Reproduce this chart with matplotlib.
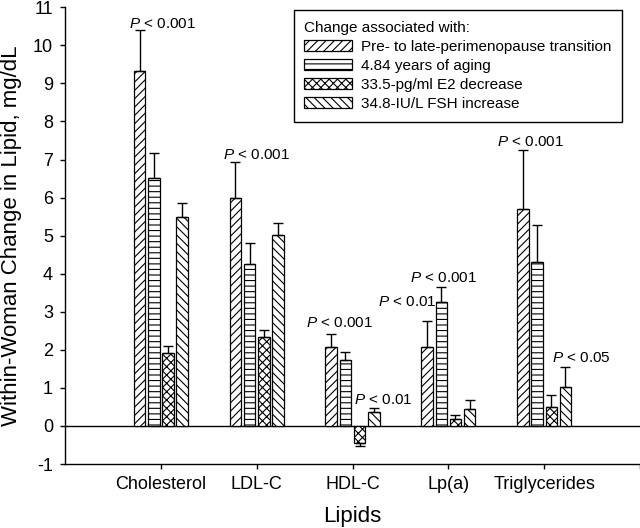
import numpy as np
from matplotlib import pyplot as plt

plt.rcParams['font.family'] = ['Liberation Sans', 'DejaVu Sans']
plt.rcParams['mathtext.fontset'] = 'custom'
plt.rcParams['mathtext.rm'] = 'Liberation Sans'
plt.rcParams['mathtext.it'] = 'Liberation Sans:italic'
plt.rcParams['axes.unicode_minus'] = False
plt.rcParams['hatch.linewidth'] = 0.8

# Data (mg/dL)
lipids = ['Cholesterol', 'LDL-C', 'HDL-C', 'Lp(a)', 'Triglycerides']
series_labels = ['Pre- to late-perimenopause transition',
                 '4.84 years of aging',
                 '33.5-pg/ml E2 decrease',
                 '34.8-IU/L FSH increase']
transition = [9.32, 5.98, 2.07, 2.07, 5.69]
transition_err = [1.09, 0.95, 0.34, 0.70, 1.57]
aging = [6.51, 4.25, 1.73, 3.25, 4.30]
aging_err = [0.66, 0.56, 0.21, 0.39, 0.98]
e2 = [1.91, 2.33, -0.44, 0.18, 0.51]
e2_err = [0.19, 0.18, 0.08, 0.12, 0.29]
fsh = [5.49, 5.01, 0.36, 0.45, 1.03]
fsh_err = [0.36, 0.31, 0.12, 0.22, 0.53]

# (lipid index, series index, text)
p_labels = [(0, 0, '$P$ < 0.001'), (1, 0, '$P$ < 0.001'),
            (2, 0, '$P$ < 0.001'), (2, 3, '$P$ < 0.01'),
            (3, 0, '$P$ < 0.01'), (3, 1, '$P$ < 0.001'),
            (4, 0, '$P$ < 0.001'), (4, 3, '$P$ < 0.05')]
# text offsets in pixels from the error-bar end
p_offsets = [(-10.5, 2), (-12, 3), (-25.5, 7), (-20, 3.5),
             (-49, 14.5), (-31.7, 5), (-25.7, 4), (-13.6, 4.4)]

values = [transition, aging, e2, fsh]
errors = [transition_err, aging_err, e2_err, fsh_err]
hatches = ['////', '---', 'xxxx', '\\\\\\\\']

fig = plt.figure(figsize=(6.4, 5.28), dpi=100)
ax = fig.add_axes([0.1016, 0.1212, 0.8984, 0.865])

x = np.arange(1, len(lipids) + 1)
width = 0.12
step = 0.148
bars = []
for i, (vals, errs) in enumerate(zip(values, errors)):
    pos = x + (i - 1.5) * step
    b = ax.bar(pos, vals, width, color='white', edgecolor='black',
               linewidth=0.9, hatch=hatches[i], label=series_labels[i], zorder=2)
    bars.append(b)
    vals = np.array(vals)
    errs = np.array(errs)
    lower = np.where(vals < 0, errs, 0)
    upper = np.where(vals < 0, 0, errs)
    ax.errorbar(pos, vals, yerr=[lower, upper], fmt='none', ecolor='black',
                elinewidth=1, capsize=3.3, capthick=1, zorder=3)

for (g, s, txt), (dx, dy) in zip(p_labels, p_offsets):
    v = values[s][g]
    top = v + errors[s][g]
    ax.annotate(txt, xy=(x[g] + (s - 1.5) * step, top),
                xytext=(dx * 0.72, dy * 0.72), textcoords='offset points',
                ha='left', va='baseline', fontsize=11)

ax.axhline(0, color='black', linewidth=1, zorder=1)

ax.set_xlim(0, 6)
ax.set_ylim(-1, 11)
ax.set_xticks(list(x) + [6])
ax.set_xticklabels(lipids + [''])
ax.set_yticks(range(-1, 12))
ax.tick_params(direction='out', length=3.6, width=1, labelsize=13, pad=5)
for side in ['top', 'right']:
    ax.spines[side].set_visible(False)
for side in ['left', 'bottom']:
    ax.spines[side].set_linewidth(1)

ax.set_xlabel('Lipids', fontsize=16, labelpad=9.5)
ax.set_ylabel('Within-Woman Change in Lipid, mg/dL', fontsize=16)
ax.yaxis.set_label_coords(-0.075, 0.5)

leg = ax.legend(handles=bars, title='Change associated with:', fontsize=11,
                title_fontsize=11, alignment='left', loc='upper right',
                bbox_to_anchor=(622 / 640, 1 - 10 / 528),
                bbox_transform=fig.transFigure, fancybox=False,
                edgecolor='black', framealpha=1, borderpad=0.7,
                labelspacing=0.33, handlelength=3.1, handleheight=0.66,
                handletextpad=0.6, borderaxespad=0)
leg.get_frame().set_linewidth(1)

plt.savefig('out.png', dpi=100)
